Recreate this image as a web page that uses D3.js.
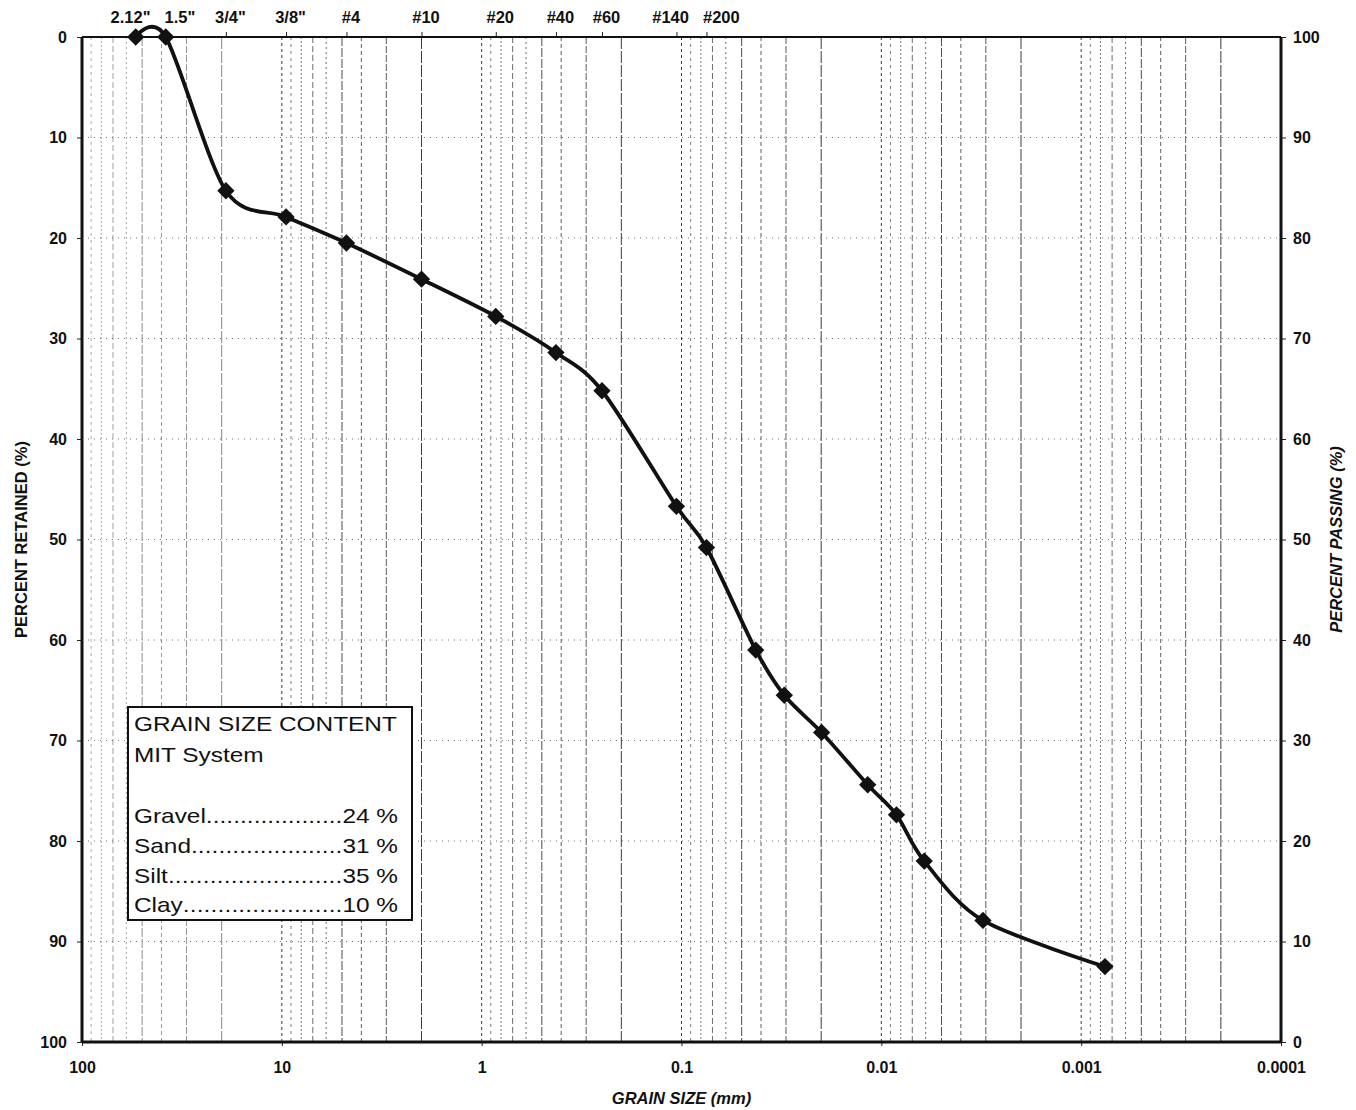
<!DOCTYPE html>
<html><head><meta charset="utf-8">
<script src="https://cdn.jsdelivr.net/npm/d3@7"></script>
<style>
body{margin:0;background:#fff;}
text{font-family:"Liberation Sans",Arial,Helvetica,sans-serif;fill:#111;}
</style>
</head><body>
<svg id="chart" width="1356" height="1110"></svg>
<script>
// ---- data ----
const grainSize = [53.85, 38.1, 19.05, 9.525, 4.75, 2.0, 0.85, 0.425, 0.25, 0.106, 0.075,
                   0.0425, 0.0306, 0.0199, 0.0117, 0.0084, 0.0061, 0.0031, 0.00076];
const percentRetained = [0, 0, 15.3, 17.9, 20.5, 24.1, 27.8, 31.4, 35.2, 46.7, 50.8,
                         61.0, 65.5, 69.2, 74.4, 77.4, 82.0, 87.9, 92.5];
const sieveLabels = ['2.12"', '1.5"', '3/4"', '3/8"', '#4', '#10', '#20', '#40', '#60', '#140', '#200'];
const sieveSizes  = [53.85, 38.1, 19.05, 9.525, 4.75, 2.0, 0.85, 0.425, 0.25, 0.106, 0.075];
const xTickValues = [100, 10, 1, 0.1, 0.01, 0.001, 0.0001];
const xTickLabels = ["100", "10", "1", "0.1", "0.01", "0.001", "0.0001"];
const yTickValues = [0, 10, 20, 30, 40, 50, 60, 70, 80, 90, 100];
const legendHeader = ["GRAIN SIZE CONTENT", "MIT System"];
const legendNames  = ["Gravel", "Sand", "Silt", "Clay"];
const legendValues = [24, 31, 35, 10];

// ---- layout ----
const L = 82, R = 1281, T = 37, B = 1042;
const svg = d3.select("#chart");
const x = d3.scaleLog().domain([100, 0.0001]).range([L, R]);
const yL = d3.scaleLinear().domain([0, 100]).range([T, B]);
const yR = d3.scaleLinear().domain([100, 0]).range([T, B]);

// ---- vertical log grid ----
const gridVals = [];
for (let e = -4; e <= 1; e++) for (let m = 1; m <= 9; m++) {
  const v = +(m * Math.pow(10, e)).toPrecision(6);
  if (v > 0.0001 && v < 100) gridVals.push({v, m});
}
const dashStyle = {1:["3,3","#333"],2:["12,2","#333"],3:["7,2","#555"],4:["4,3","#555"],5:["9,2","#444"],
                   6:["2,3","#666"],7:["6,3","#666"],8:["2,2","#777"],9:["3,4","#777"]};
svg.append("g").selectAll("line").data(gridVals).join("line")
  .attr("x1", d => x(d.v)).attr("x2", d => x(d.v))
  .attr("y1", T).attr("y2", B)
  .attr("stroke", d => dashStyle[d.m][1])
  .attr("stroke-width", 1)
  .attr("stroke-dasharray", d => dashStyle[d.m][0])
  .attr("opacity", d => d.v > 10 ? 0.6 : 0.95);

// ---- horizontal grid ----
svg.append("g").selectAll("line").data(yTickValues.filter(d => d > 0 && d < 100)).join("line")
  .attr("x1", L).attr("x2", R)
  .attr("y1", d => yL(d)).attr("y2", d => yL(d))
  .attr("stroke", "#777").attr("stroke-width", 1).attr("stroke-dasharray", "1,5");

// ---- axes ----
const fontTick = "16px";
const gl = svg.append("g").attr("transform", `translate(${L},0)`)
  .call(d3.axisLeft(yL).tickValues(yTickValues).tickSize(5).tickPadding(10));
const gr = svg.append("g").attr("transform", `translate(${R},0)`)
  .call(d3.axisRight(yR).tickValues(yTickValues).tickSize(5).tickPadding(7));
const gb = svg.append("g").attr("transform", `translate(0,${B})`)
  .call(d3.axisBottom(x).tickValues(xTickValues).tickFormat((d, i) => xTickLabels[i]).tickSize(4).tickPadding(16));
const gt = svg.append("g").attr("transform", `translate(0,${T})`)
  .call(d3.axisTop(x).tickValues(sieveSizes).tickFormat((d, i) => sieveLabels[i]).tickSize(5).tickPadding(9));
[gl, gr, gb, gt].forEach(g => {
  g.select(".domain").remove();
  g.selectAll("text").attr("font-size", fontTick).attr("font-weight", "bold")
    .attr("font-family", '"Liberation Sans",Arial,sans-serif').attr("fill", "#111");
  g.selectAll(".tick line").attr("stroke", "#222").attr("stroke-width", 1);
});
gt.selectAll("text").attr("font-size", "16.5px");

// spread the top sieve labels so none overlap (simple relaxation)
{
  const texts = gt.selectAll(".tick text").nodes();
  const base = sieveSizes.map(s => x(s) + 4);
  const w = texts.map(t => t.getComputedTextLength());
  const c = base.slice();
  const gap = 14;
  for (let it = 0; it < 60; it++) {
    for (let i = 1; i < c.length; i++) {
      const need = (w[i - 1] + w[i]) / 2 + gap;
      const d = c[i] - c[i - 1];
      if (d < need) { const push = (need - d) / 2; c[i - 1] -= push; c[i] += push; }
    }
  }
  texts.forEach((t, i) => d3.select(t).attr("dx", c[i] - x(sieveSizes[i])));
}

// frame
svg.append("line").attr("x1", L).attr("x2", R).attr("y1", T).attr("y2", T).attr("stroke", "#111").attr("stroke-width", 2);
svg.append("line").attr("x1", L).attr("x2", R).attr("y1", B).attr("y2", B).attr("stroke", "#111").attr("stroke-width", 3);
svg.append("line").attr("x1", L).attr("x2", L).attr("y1", T).attr("y2", B).attr("stroke", "#111").attr("stroke-width", 3);
svg.append("line").attr("x1", R).attr("x2", R).attr("y1", T).attr("y2", B).attr("stroke", "#111").attr("stroke-width", 3);

// ---- axis titles ----
svg.append("text").attr("transform", `translate(27,${(T + B) / 2}) rotate(-90)`)
  .attr("text-anchor", "middle").attr("font-size", "16.5px").attr("font-weight", "bold")
  .text("PERCENT RETAINED (%)");
svg.append("text").attr("transform", `translate(1342,${(T + B) / 2}) rotate(-90)`)
  .attr("text-anchor", "middle").attr("font-size", "16.5px").attr("font-weight", "bold").attr("font-style", "italic")
  .text("PERCENT PASSING (%)");
svg.append("text").attr("x", (L + R) / 2).attr("y", 1104)
  .attr("text-anchor", "middle").attr("font-size", "16.5px").attr("font-weight", "bold").attr("font-style", "italic")
  .text("GRAIN SIZE (mm)");

// ---- curve ----
const pts = grainSize.map((s, i) => ({s, r: percentRetained[i]}));
const line = d3.line().x(d => x(d.s)).y(d => yL(d.r)).curve(d3.curveCardinal.tension(0.1));
svg.append("path").datum(pts).attr("d", line)
  .attr("fill", "none").attr("stroke", "#111").attr("stroke-width", 3.8).attr("stroke-linejoin", "round");
svg.append("g").selectAll("path").data(pts).join("path")
  .attr("d", d3.symbol(d3.symbolSquare, 150))
  .attr("transform", d => `translate(${x(d.s)},${yL(d.r)}) rotate(45)`)
  .attr("fill", "#111");

// ---- legend ----
const lx = 128, ly = 707, lw = 284, lh = 213;
svg.append("rect").attr("x", lx).attr("y", ly).attr("width", lw).attr("height", lh)
  .attr("fill", "#fff").attr("stroke", "#111").attr("stroke-width", 2);
const sx = 1.22;
const lg = svg.append("g").attr("transform", `translate(${lx + 6},0) scale(${sx},1)`);
const fs = "20px";
const headerY = [731, 762];
legendHeader.forEach((t, i) => {
  lg.append("text").attr("x", 0).attr("y", headerY[i]).attr("font-size", fs).text(t);
});
const rowY = [823, 853, 883, 912];
const rightEdge = (398 - lx - 6) / sx;
const dotProbe = lg.append("text").attr("font-size", fs).text("..........");
const dotW = dotProbe.node().getComputedTextLength() / 10;
dotProbe.remove();
legendNames.forEach((n, i) => {
  const nt = lg.append("text").attr("x", 0).attr("y", rowY[i]).attr("font-size", fs).text(n);
  const vt = lg.append("text").attr("x", rightEdge).attr("y", rowY[i]).attr("font-size", fs)
    .attr("text-anchor", "end").text(legendValues[i] + " %");
  const nw = nt.node().getComputedTextLength();
  const vw = vt.node().getComputedTextLength();
  const gap = rightEdge - vw - nw;
  const count = Math.max(0, Math.floor(gap / dotW));
  lg.append("text").attr("x", nw).attr("y", rowY[i]).attr("font-size", fs)
    .attr("textLength", gap).attr("lengthAdjust", "spacing").text(".".repeat(count));
});
</script>
</body></html>
